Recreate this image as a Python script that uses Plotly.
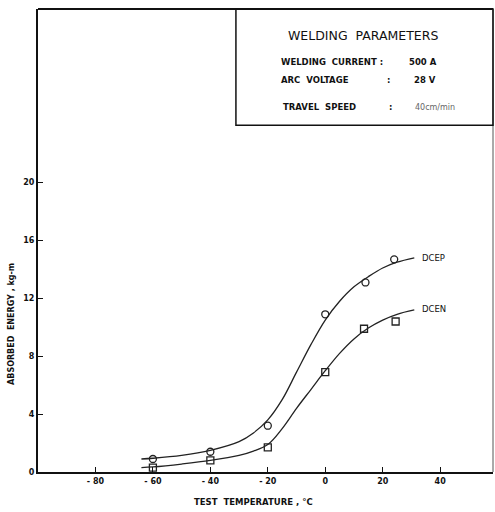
import plotly.graph_objects as go

# measured data points
temp_pts = [-60, -40, -20, 0, 14, 24]
dcep_pts = [0.9, 1.4, 3.2, 10.9, 13.1, 14.7]
temp_pts_en = [-60, -40, -20, 0, 13.5, 24.5]
dcen_pts = [0.3, 0.8, 1.7, 6.9, 9.9, 10.4]

# fitted curves
curve_x = [-64, -60, -50, -40, -30, -25, -20, -15, -10, -5, 0, 5, 10, 15, 20, 25, 31]
dcep_curve = [0.9, 0.95, 1.15, 1.5, 2.1, 2.7, 3.6, 5.0, 6.9, 8.8, 10.5, 11.8, 12.8, 13.5, 14.1, 14.5, 14.8]
dcen_curve = [0.3, 0.35, 0.55, 0.8, 1.15, 1.45, 1.9, 3.0, 4.4, 5.7, 7.0, 8.2, 9.2, 9.95, 10.5, 10.9, 11.2]

x_ticks = [-80, -60, -40, -20, 0, 20, 40]
x_tick_labels = ["- 80", "- 60", "- 40", "- 20", "0", "20", "40"]
y_ticks = [0, 4, 8, 12, 16, 20]
y_tick_labels = ["0", "4", "8", "12", "16", "20"]

LINE = "#222222"
FONT = "DejaVu Sans"

fig = go.Figure()
fig.add_trace(go.Scatter(x=curve_x, y=dcep_curve, mode="lines", line=dict(color=LINE, width=1.3, shape="spline", smoothing=1.0), showlegend=False))
fig.add_trace(go.Scatter(x=curve_x, y=dcen_curve, mode="lines", line=dict(color=LINE, width=1.3, shape="spline", smoothing=1.0), showlegend=False))
fig.add_trace(go.Scatter(x=temp_pts, y=dcep_pts, mode="markers",
                         marker=dict(symbol="circle-open", size=7, color=LINE, line=dict(width=1.3)), showlegend=False))
fig.add_trace(go.Scatter(x=temp_pts_en, y=dcen_pts, mode="markers",
                         marker=dict(symbol="square-open", size=7, color=LINE, line=dict(width=1.3)), showlegend=False))

fig.update_layout(
    width=495, height=512,
    margin=dict(l=38, r=2, t=9, b=40),
    paper_bgcolor="white", plot_bgcolor="white",
    font=dict(family=FONT, color="#111111"),
    xaxis=dict(range=[-100, 58.4], tickvals=x_ticks, ticktext=[f"<b>{t}</b>" for t in x_tick_labels],
               ticks="inside", ticklen=5, tickcolor="#111", tickwidth=1.2,
               showgrid=False, zeroline=False, showline=True, linecolor="#111", linewidth=2,
               tickfont=dict(size=8, family=FONT, color="#111")),
    yaxis=dict(range=[0, 32], tickvals=y_ticks, ticktext=[f"<b>{t}</b>" for t in y_tick_labels],
               ticks="inside", ticklen=5, tickcolor="#111", tickwidth=1.2,
               showgrid=False, zeroline=False, showline=True, linecolor="#111", linewidth=2,
               tickfont=dict(size=8, family=FONT, color="#111")),
)

# frame top and right
fig.add_shape(type="line", xref="paper", yref="paper", x0=0, x1=1, y0=1, y1=1, line=dict(color="#111", width=2))
fig.add_shape(type="line", xref="paper", yref="paper", x0=1, x1=1, y0=0, y1=1, line=dict(color="#555", width=1))
# parameter box
fig.add_shape(type="rect", xref="paper", yref="paper", x0=0.435, x1=1, y0=0.749, y1=1, line=dict(color="#111", width=1.5))

def ann(text, x, y, size=7, xanchor="left", color="#111", bold=True, xref="paper", yref="paper", angle=0):
    t = f"<b>{text}</b>" if bold else text
    fig.add_annotation(text=t, x=x, y=y, xref=xref, yref=yref, xanchor=xanchor, yanchor="middle",
                       showarrow=False, textangle=angle, font=dict(size=size, family=FONT, color=color))

ann("WELDING  PARAMETERS", 0.714, 0.942, size=12.5, xanchor="center", bold=False)
ann("WELDING  CURRENT :", 0.530, 0.886, size=8.5)
ann("500 A", 0.811, 0.886, size=8.5)
ann("ARC  VOLTAGE", 0.530, 0.847, size=8.5)
ann(":", 0.763, 0.847, size=8.5)
ann("28 V", 0.822, 0.847, size=8.5)
ann("TRAVEL  SPEED", 0.534, 0.788, size=8.5)
ann(":", 0.767, 0.788, size=8.5)
ann("40cm/min", 0.824, 0.788, size=8, color="#666", bold=False)

ann("DCEP", 33.0, 14.8, size=8.5, bold=False, xref="x", yref="y")
ann("DCEN", 33.0, 11.3, size=8.5, bold=False, xref="x", yref="y")

# axis titles
ann("TEST  TEMPERATURE , °C", 0.473, -0.065, size=8.5, xanchor="center")
ann("ABSORBED  ENERGY , kg-m", -0.057, 0.32, size=8, xanchor="center", angle=-90)

fig.write_html("out.html")
